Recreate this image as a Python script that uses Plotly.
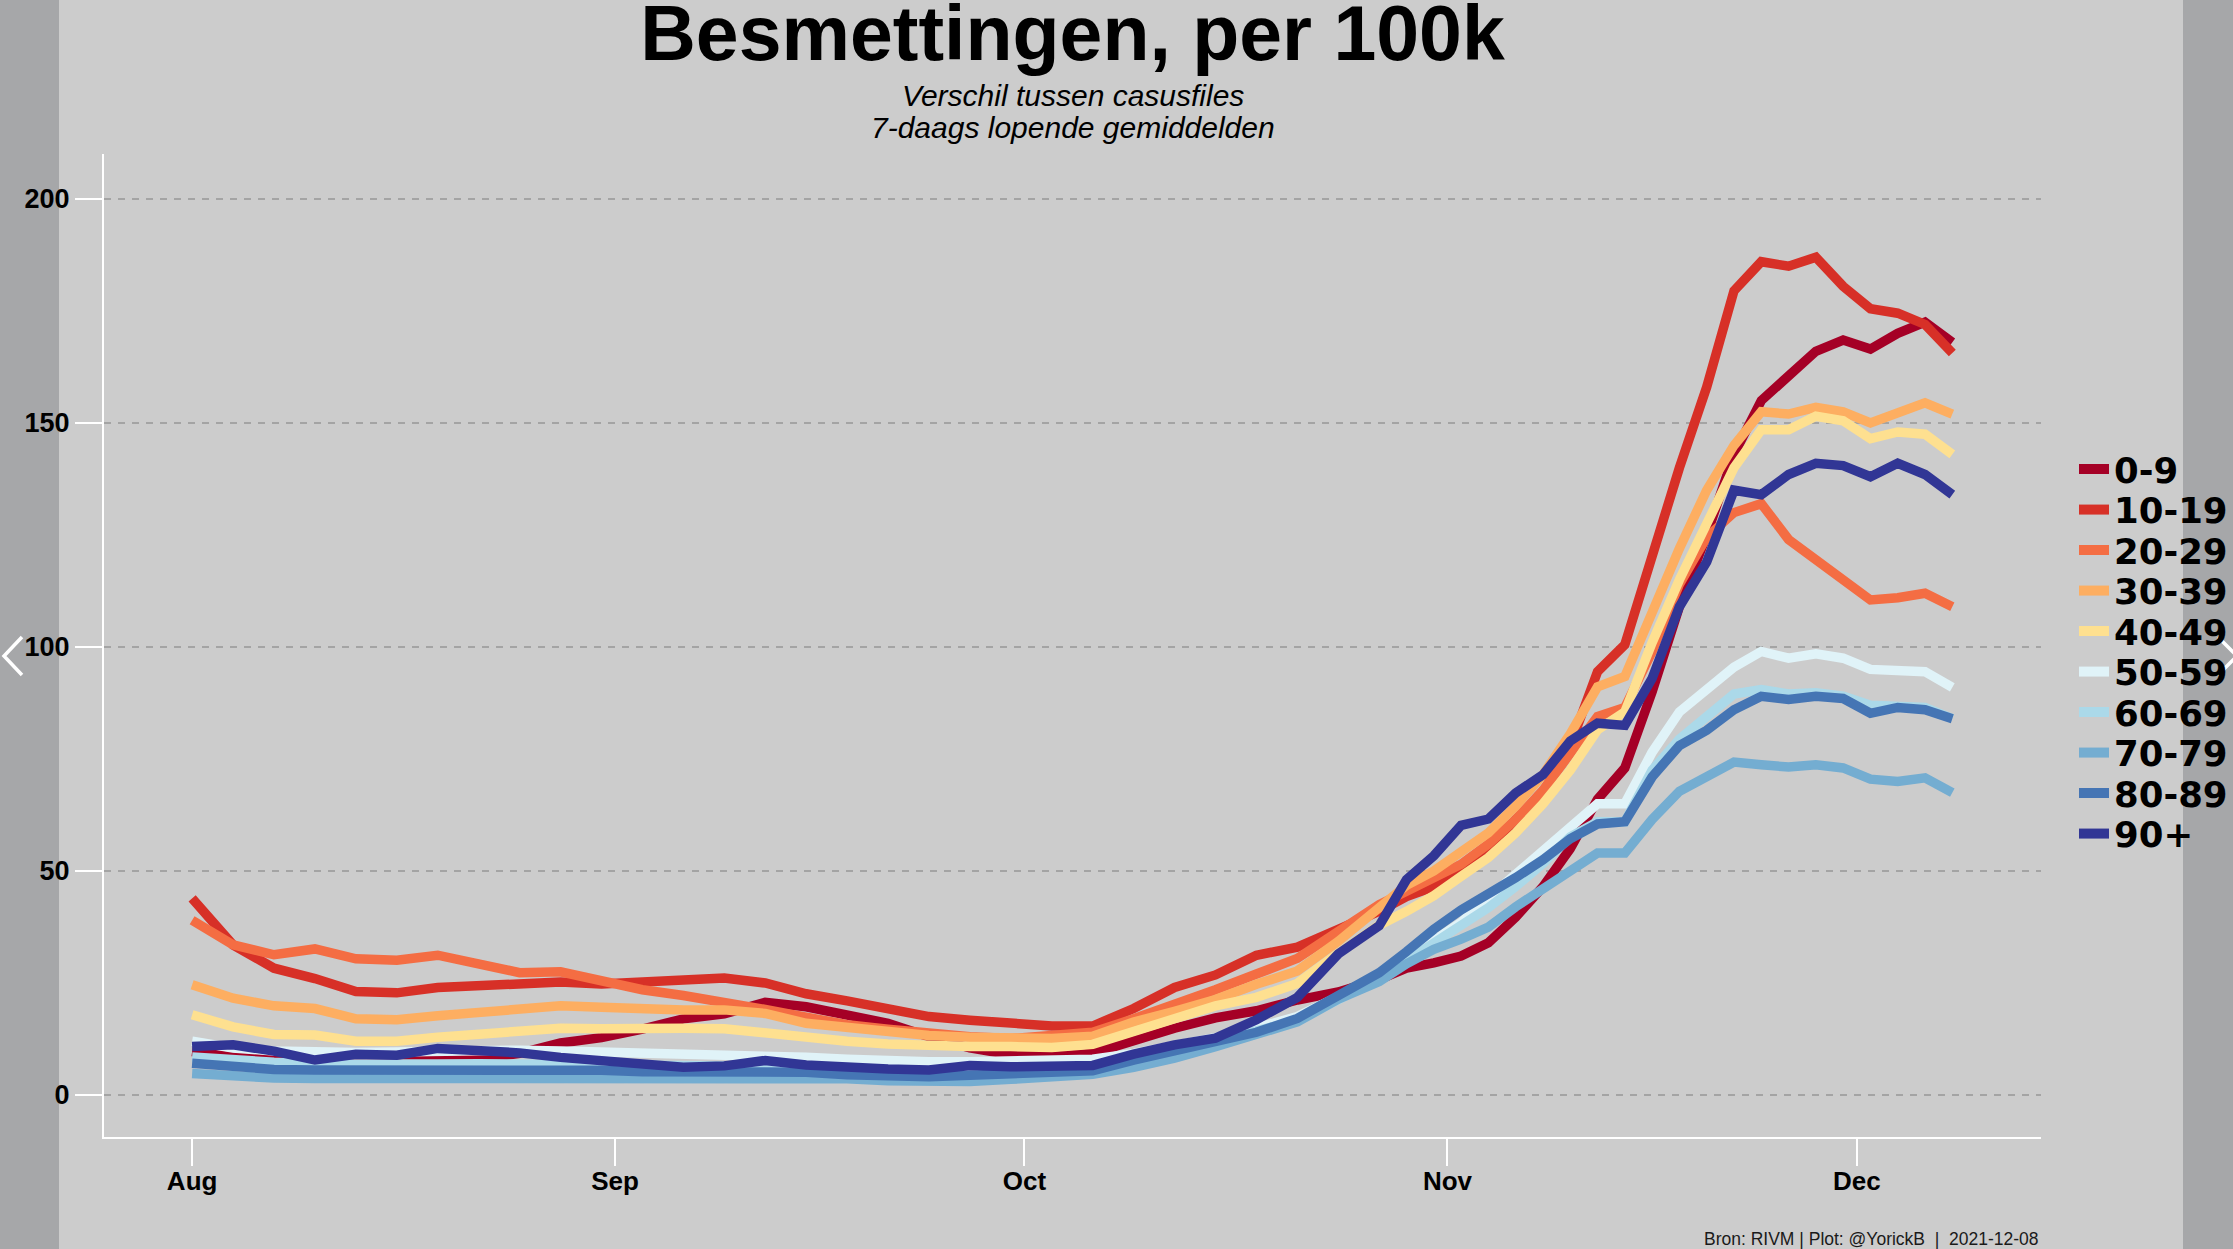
import plotly.graph_objects as go

# ---------------- data ----------------
dates = [
    "2021-08-01", "2021-08-04", "2021-08-07", "2021-08-10", "2021-08-13", "2021-08-16",
    "2021-08-19", "2021-08-22", "2021-08-25", "2021-08-28", "2021-08-31", "2021-09-03",
    "2021-09-06", "2021-09-09", "2021-09-12", "2021-09-15", "2021-09-18", "2021-09-21",
    "2021-09-24", "2021-09-27", "2021-09-30", "2021-10-03", "2021-10-06", "2021-10-09",
    "2021-10-12", "2021-10-15", "2021-10-18", "2021-10-21", "2021-10-24", "2021-10-27",
    "2021-10-29", "2021-10-31", "2021-11-02", "2021-11-04", "2021-11-06", "2021-11-08",
    "2021-11-10", "2021-11-12", "2021-11-14", "2021-11-16", "2021-11-18", "2021-11-20",
    "2021-11-22", "2021-11-24", "2021-11-26", "2021-11-28", "2021-11-30", "2021-12-02",
    "2021-12-04", "2021-12-06", "2021-12-08",
]

age_groups = ["0-9", "10-19", "20-29", "30-39", "40-49", "50-59", "60-69", "70-79", "80-89", "90+"]
colors = ["#a50026", "#d73027", "#f46d43", "#fdae61", "#fee090",
          "#e0f3f8", "#abd9e9", "#74add1", "#4575b4", "#313695"]

v_0_9 = [9.7, 8.5, 8.0, 7.8, 7.6, 7.4, 7.7, 8.0, 9.3, 11.6, 12.8, 14.7, 17.0, 18.1, 20.7, 19.7, 17.9,
         16.0, 13.0, 10.5, 9.0, 8.6, 9.3, 12.2, 14.9, 17.2, 18.8, 21.2, 23.0, 25.8, 28.3, 29.5, 31.0,
         34.0, 39.7, 46.5, 55.0, 66.0, 73.0, 90.0, 109.0, 125.0, 143.0, 155.0, 160.5, 166.0, 168.5,
         166.5, 170.0, 172.5, 168.0]
v_10_19 = [43.9, 33.5, 28.3, 26.0, 23.1, 22.8, 24.0, 24.4, 24.9, 25.2, 24.8, 25.3, 25.8, 26.1, 25.0,
           22.6, 21.0, 19.4, 17.5, 16.7, 16.0, 15.4, 15.4, 19.3, 24.0, 26.8, 31.2, 33.0, 37.0, 41.0,
           44.3, 46.5, 50.3, 55.0, 61.5, 67.5, 78.0, 94.5, 100.5, 121.0, 140.0, 158.0, 179.5, 186.0,
           185.0, 187.0, 180.5, 175.5, 174.5, 172.0, 165.6]
v_20_29 = [39.0, 33.5, 31.3, 32.6, 30.4, 30.1, 31.2, 29.0, 27.3, 27.5, 25.5, 23.5, 22.2, 20.8, 19.1,
           17.4, 15.7, 14.7, 13.7, 13.0, 12.6, 13.2, 14.0, 17.0, 20.0, 23.5, 27.0, 30.5, 36.5, 42.5,
           45.5, 48.5, 51.5, 56.0, 61.5, 68.0, 76.5, 84.5, 86.5, 99.0, 114.0, 124.5, 130.0, 132.0,
           124.0, 119.5, 115.0, 110.5, 111.0, 112.0, 109.0]
v_30_39 = [24.6, 21.6, 19.9, 19.3, 17.0, 16.8, 17.7, 18.3, 19.3, 19.9, 19.6, 19.2, 19.0, 19.0, 18.2,
           16.0, 15.0, 14.1, 13.3, 12.9, 12.7, 12.6, 13.1, 16.3, 18.7, 21.3, 24.7, 27.7, 34.3, 41.7,
           46.8, 50.0, 54.0, 58.5, 64.5, 71.5, 80.6, 91.1, 93.4, 108.0, 122.0, 135.0, 145.0, 152.5,
           152.0, 153.5, 152.5, 150.0, 152.0, 154.5, 152.0]
v_40_49 = [17.9, 15.2, 13.5, 13.4, 12.0, 12.0, 12.9, 13.6, 14.5, 14.9, 14.8, 14.6, 14.9, 14.8, 13.8,
           12.6, 12.0, 11.4, 11.0, 10.8, 10.8, 10.6, 11.3, 14.1, 17.2, 19.9, 21.8, 24.9, 31.6, 37.9,
           41.0, 44.5, 48.8, 53.0, 58.5, 65.0, 72.5, 81.5, 85.5, 101.0, 115.0, 127.0, 140.0, 148.5,
           148.5, 151.5, 150.5, 146.5, 148.0, 147.5, 143.0]
v_50_59 = [12.0, 10.5, 9.8, 9.5, 9.5, 9.6, 9.8, 10.0, 10.0, 9.8, 9.6, 9.6, 9.4, 9.2, 8.8, 8.4, 8.0,
           7.6, 7.4, 7.4, 7.6, 7.8, 8.0, 9.3, 10.8, 12.8, 15.0, 17.5, 22.0, 26.5, 30.5, 34.5, 38.5,
           44.0, 49.3, 54.6, 59.8, 65.0, 65.0, 76.5, 85.5, 90.3, 95.5, 99.0, 97.5, 98.5, 97.5, 95.0,
           94.5, 94.5, 91.0]
v_60_69 = [8.5, 7.8, 7.3, 7.0, 6.8, 6.8, 6.9, 7.0, 7.0, 6.9, 6.8, 6.8, 6.7, 6.5, 6.3, 6.0, 5.6, 5.3,
           5.1, 5.1, 5.4, 5.6, 6.0, 8.0, 10.0, 12.0, 14.3, 16.6, 21.5, 26.0, 30.0, 34.0, 37.5, 41.8,
           46.5, 51.7, 57.6, 61.0, 61.0, 72.5, 79.4, 84.5, 89.5, 90.5, 89.5, 89.8, 89.0, 87.0, 87.0,
           86.5, 84.0]
v_70_79 = [4.8, 4.2, 3.8, 3.7, 3.7, 3.7, 3.7, 3.8, 3.9, 4.1, 4.1, 4.1, 4.1, 4.1, 4.0, 3.8, 3.6, 3.2,
           3.0, 3.0, 3.5, 3.8, 4.6, 6.2, 8.2, 10.8, 13.5, 16.3, 21.4, 25.3, 29.3, 32.5, 34.8, 37.5,
           42.0, 46.0, 50.3, 54.0, 54.0, 61.5, 67.8, 71.0, 74.3, 73.7, 73.2, 73.7, 73.0, 70.5, 70.0,
           70.8, 67.5]
v_80_89 = [7.1, 6.3, 5.7, 5.6, 5.6, 5.6, 5.8, 6.0, 5.9, 5.7, 5.5, 5.2, 5.2, 5.2, 5.2, 5.1, 4.5, 4.1,
           4.1, 4.4, 4.8, 5.0, 5.4, 7.8, 9.7, 11.6, 14.0, 17.1, 22.5, 27.3, 32.0, 37.0, 41.3, 44.7,
           48.5, 52.5, 57.2, 60.5, 61.0, 71.0, 78.0, 81.4, 86.0, 89.0, 88.3, 89.0, 88.5, 85.2, 86.5,
           86.0, 84.0]
v_90_plus = [10.8, 11.2, 9.8, 7.8, 9.1, 8.9, 10.4, 10.0, 9.4, 8.4, 7.8, 6.8, 6.2, 6.5, 7.7, 6.7, 6.1,
             5.8, 5.6, 6.6, 6.3, 6.5, 6.6, 9.1, 11.2, 12.7, 16.8, 21.8, 31.5, 37.8, 48.1, 53.4, 60.2,
             61.6, 67.4, 71.5, 79.0, 83.0, 82.5, 93.0, 109.0, 119.0, 135.0, 134.0, 138.5, 141.0,
             140.5, 138.0, 141.0, 138.5, 134.0]

series = [v_0_9, v_10_19, v_20_29, v_30_39, v_40_49, v_50_59, v_60_69, v_70_79, v_80_89, v_90_plus]

x_tick_vals = ["2021-08-01", "2021-09-01", "2021-10-01", "2021-11-01", "2021-12-01"]
x_tick_text = ["Aug", "Sep", "Oct", "Nov", "Dec"]
y_tick_vals = [0, 50, 100, 150, 200]

title_text = "Besmettingen, per 100k"
subtitle_lines = ["Verschil tussen casusfiles", "7-daags lopende gemiddelden"]
source_text = "Bron: RIVM | Plot: @YorickB  |  2021-12-08"

# ---------------- geometry / style ----------------
W, H = 2233, 1249
L, R, T, B = 104, 192, 154, 112
PW, PH = W - L - R, H - T - B
BG = "#cccccc"
SIDE = "#a6a7a9"
SANS = "Liberation Sans, Arial, sans-serif"


def px_x(x):
    return (x - L) / PW


def px_y(y):
    return (H - B - y) / PH


fig = go.Figure()

for name, col, vals in zip(age_groups, colors, series):
    fig.add_trace(go.Scatter(
        x=dates, y=vals, mode="lines", name=name,
        line=dict(color=col, width=9.5), showlegend=False, hoverinfo="skip",
    ))

# legend entries (one legend per entry so the spacing can follow the reference)
legend_layout = {}
for i, (name, col) in enumerate(zip(age_groups, colors)):
    key = "legend" if i == 0 else f"legend{i + 1}"
    fig.add_trace(go.Scatter(
        x=[None], y=[None], mode="lines", name=name,
        line=dict(color=col, width=10), showlegend=True, legend=key,
    ))
    legend_layout[key] = dict(
        x=px_x(2074), y=px_y(469.5 + 40.5 * i), xanchor="left", yanchor="middle",
        bgcolor="rgba(0,0,0,0)", borderwidth=0,
        font=dict(family="DejaVu Sans, sans-serif", size=35.5, color="black", weight="bold"),
        itemwidth=30,
    )

fig.update_layout(**legend_layout)

fig.update_layout(
    width=W, height=H,
    margin=dict(l=L, r=R, t=T, b=B, pad=0, autoexpand=False),
    paper_bgcolor=BG, plot_bgcolor=BG,
    showlegend=True,
    title=dict(
        text=f"<b>{title_text}</b>", x=0.5, xref="paper", xanchor="center",
        y=1 - 6 / H, yref="container", yanchor="top",
        font=dict(family=SANS, size=77, color="black"),
    ),
    xaxis=dict(
        type="date", range=["2021-07-25 13:00", "2021-12-14 12:00"],
        tickvals=x_tick_vals, ticktext=x_tick_text,
        ticks="outside", ticklen=27, tickwidth=2, tickcolor="white",
        showline=True, linecolor="white", linewidth=2,
        showgrid=False, zeroline=False, automargin=False,
        ticklabelstandoff=-7,
        tickfont=dict(family=SANS, size=26, color="black", weight="bold"),
    ),
    yaxis=dict(
        range=[-9.375, 210.04], tickvals=y_tick_vals,
        ticks="outside", ticklen=27, tickwidth=2, tickcolor="white",
        showline=True, linecolor="white", linewidth=2,
        showgrid=True, gridcolor="#a4a4a4", gridwidth=1.5, griddash="7px,7px",
        zeroline=False, automargin=False,
        tickfont=dict(family=SANS, size=27, color="black", weight="bold"),
    ),
)

# subtitle lines and caption
for line, yc in zip(subtitle_lines, [95, 127]):
    fig.add_annotation(
        text=f"<i>{line}</i>", xref="paper", yref="paper", x=0.5, y=px_y(yc),
        xanchor="center", yanchor="middle", showarrow=False,
        font=dict(family=SANS, size=30, color="black"),
    )
fig.add_annotation(
    text=source_text, xref="paper", yref="paper", x=1.0, y=px_y(1239),
    xanchor="right", yanchor="middle", showarrow=False,
    font=dict(family=SANS, size=17.5, color="#1a1a1a"),
)

# grey side bars of the viewer frame and its arrows
fig.add_shape(type="rect", xref="paper", yref="paper", x0=px_x(0), x1=px_x(59),
              y0=px_y(H), y1=px_y(0), fillcolor=SIDE, line=dict(width=0), layer="below")
fig.add_shape(type="rect", xref="paper", yref="paper", x0=px_x(2183), x1=px_x(W),
              y0=px_y(H), y1=px_y(0), fillcolor=SIDE, line=dict(width=0), layer="below")


def path(points):
    return "M " + " L ".join(f"{px_x(a)},{px_y(b)}" for a, b in points)


fig.add_shape(type="path", xref="paper", yref="paper",
              path=path([(22, 637), (4, 656), (22, 675)]),
              line=dict(color="white", width=3.5))
fig.add_shape(type="path", xref="paper", yref="paper",
              path=path([(2218, 637), (2237, 656), (2218, 675)]),
              line=dict(color="white", width=3.5))

fig.write_html(
    "out.html", include_plotlyjs=True, full_html=True,
    config={"displayModeBar": False},
    post_script="document.body.style.margin='0px';document.body.style.overflow='hidden';",
)
